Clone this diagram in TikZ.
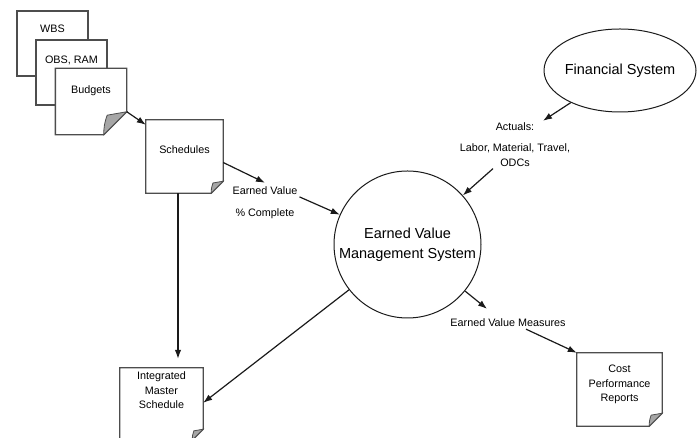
\documentclass[tikz,border=0pt]{standalone}
\usepackage{fontspec}
\setmainfont{Liberation Sans}
\usetikzlibrary{arrows.meta,positioning,calc,shapes.geometric}
\definecolor{ink}{HTML}{1A1A1A}
\definecolor{rim}{HTML}{4D4D4D}
\definecolor{curlgray}{HTML}{A6A6A6}

\begin{document}
\begin{tikzpicture}[x=1pt,y=1pt,
  sheet/.style={draw=rim,line width=1.3pt,fill=white,inner sep=0pt},
  paper/.style={fill=white,inner sep=0pt},
  pagerim/.style={draw=rim,line width=1.3pt,line join=miter},
  curl/.style={fill=curlgray,draw=rim,line width=0.8pt},
  doctxt/.style={font=\fontsize{10.8}{14.5}\selectfont,align=center,inner sep=0pt,anchor=north},
  txt/.style={font=\fontsize{10.8}{14.5}\selectfont,align=center,inner sep=2pt},
  sys/.style={draw=ink,line width=1pt,inner sep=1pt,font=\fontsize{14.5}{20}\selectfont,align=center},
  flow/.style={-{Latex[length=9pt,width=6.5pt]},line width=1.2pt,ink}]
\useasboundingbox (0,0) rectangle (699,438);
\clip (0,0) rectangle (699,438);

% stacked planning documents
\node[sheet,minimum width=71pt,minimum height=65pt,
  label={[doctxt,yshift=-14pt]north:WBS}] (wbs) at (52.5,394.5) {};
\node[sheet,minimum width=71pt,minimum height=65pt,anchor=north west,
  label={[doctxt,yshift=-16pt]north:{OBS, RAM}}] (obs) at ([shift={(19,-29)}]wbs.north west) {};
\node[paper,minimum width=71pt,minimum height=66pt,anchor=north west,
  label={[doctxt,yshift=-17.5pt]north:Budgets}] (bud) at ([shift={(20,-29)}]obs.north west) {};

\node[paper,minimum width=77pt,minimum height=73pt,
  label={[doctxt,yshift=-26pt]north:Schedules}] (sched) at (184.5,281.5) {};
\node[paper,minimum width=83pt,minimum height=72pt,
  label={[doctxt,yshift=-4pt]north:Integrated\\Master\\Schedule}] (ims) at (161.5,34) {};
\node[paper,minimum width=85pt,minimum height=73pt,
  label={[doctxt,yshift=-12pt]north:Cost\\Performance\\Reports}] (cpr) at (619.5,48.5) {};

% systems
\node[sys,circle,minimum size=147pt] (evms) at (407.5,193.5) {Earned Value\\Management System};
\node[sys,ellipse,inner xsep=-5pt,minimum width=152pt,minimum height=83pt] (fin) at (620,367.5) {Financial System};

% flow labels
\node[txt] (evlbl) at (265,235) {Earned Value\\[7.5pt]\% Complete};
\node[txt] (act) at (515,293.3) {Actuals:\\[6.5pt]Labor, Material, Travel,\\ODCs};
\node[txt] (evm) at (508,115) {Earned Value Measures};

% page outlines with the curled corner
\foreach \n/\f in {bud/23,sched/12,ims/11,cpr/13}{
  \draw[pagerim] (\n.north west) -- (\n.north east) -- ([yshift=\f]\n.south east)
    -- ([xshift=-\f]\n.south east) -- (\n.south west) -- cycle;
  \filldraw[curl] ([xshift=-\f]\n.south east) to[bend left=10] ([shift={(-0.85*\f,0.85*\f)}]\n.south east)
    -- ([yshift=\f]\n.south east) -- cycle;
}

\draw[flow] ([yshift=23]bud.south east) -- ([yshift=-5]sched.north west);
\draw[flow] ([yshift=-6]sched.east) -- ([yshift=2]evlbl.north);
\draw[flow] (evlbl.10) -- (evms);
\draw[flow,shorten >=9pt] ([xshift=-6.5]sched.south) -- ([xshift=-6.5]sched.south |- ims.north);
\draw[flow] (evms) -- ([yshift=-35]ims.north east);
\draw[flow] (fin) -- ([xshift=28]act.north);
\draw[flow] ([xshift=-22]act.south) -- (evms);
\draw[flow] (evms) -- ([xshift=-21,yshift=8]evm.north);
\draw[flow] ([xshift=18]evm.south) -- (cpr.north west);
\end{tikzpicture}
\end{document}
